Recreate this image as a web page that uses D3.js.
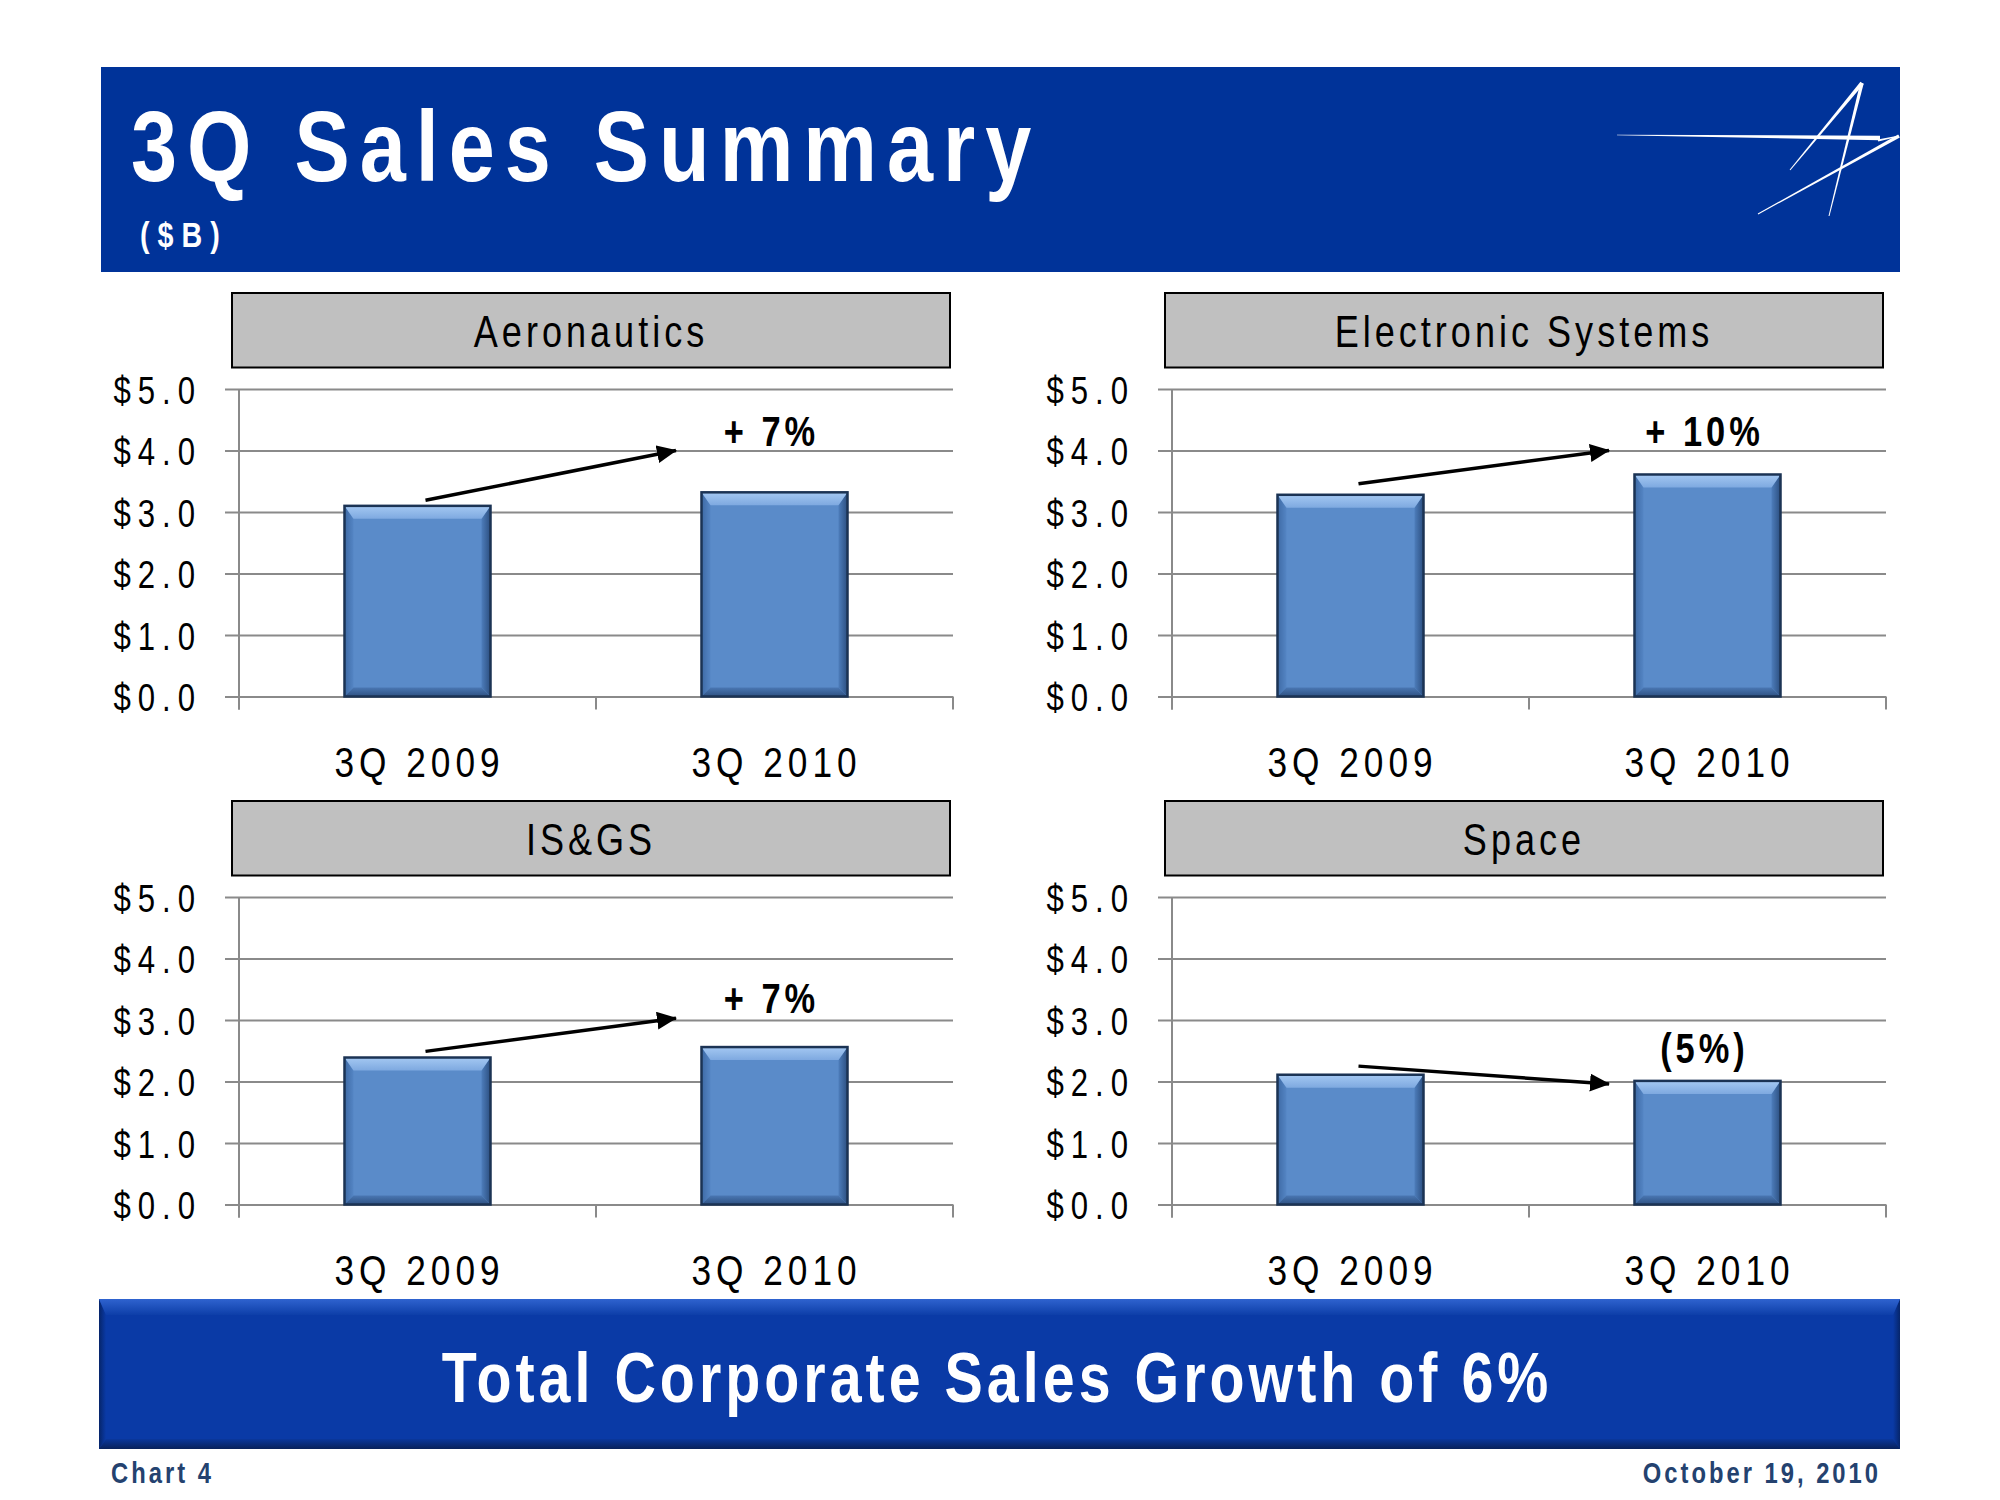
<!DOCTYPE html>
<html><head><meta charset="utf-8">
<script src="https://cdn.jsdelivr.net/npm/d3@7"></script>
<style>
html,body{margin:0;padding:0;background:#fff;}
svg{display:block;}
text{font-family:"Liberation Sans",Arial,sans-serif;}
</style></head><body>
<svg id="chart" width="2000" height="1500"></svg>
<script>
// ---------- data ----------
const categories = ["3Q 2009", "3Q 2010"];
const segments = ["Aeronautics", "Electronic Systems", "IS&GS", "Space"];
const sales3Q2009 = [3.10, 3.28, 2.39, 2.11];
const sales3Q2010 = [3.32, 3.61, 2.56, 2.01];
const changeLabels = ["+ 7%", "+ 10%", "+ 7%", "(5%)"];
const arrowFrom = [3.19, 3.46, 2.49, 2.25];
const arrowTo = [4.0, 4.0, 3.03, 1.96];
const yTickValues = [0, 1, 2, 3, 4, 5];
const titleText = "3Q Sales Summary";
const unitText = "($B)";
const footerText = "Total Corporate Sales Growth of 6%";
const chartNumber = "Chart 4";
const dateText = "October 19, 2010";

// ---------- setup ----------
const SX = 0.82; // narrow-face emulation
const svg = d3.select("#chart");
const defs = svg.append("defs");

function linGrad(id, x1, y1, x2, y2, stops) {
  const g = defs.append("linearGradient").attr("id", id)
    .attr("x1", x1).attr("y1", y1).attr("x2", x2).attr("y2", y2);
  stops.forEach(s => g.append("stop").attr("offset", s[0]).attr("stop-color", s[1]));
}
linGrad("barTop", 0, 0, 0, 1, [[0, "#a4c8f2"], [1, "#7ea9e0"]]);
linGrad("barLeft", 0, 0, 1, 0, [[0, "#3e6aa5"], [1, "#5485c4"]]);
linGrad("barRight", 0, 0, 1, 0, [[0, "#4d7dbb"], [1, "#2c4f80"]]);
linGrad("barBottom", 0, 0, 0, 1, [[0, "#4a77b3"], [1, "#2e5182"]]);
linGrad("footTop", 0, 0, 0, 1, [[0, "#2f63cf"], [1, "#0d3ea8"]]);
linGrad("footBottom", 0, 0, 0, 1, [[0, "#0a379c"], [1, "#08215a"]]);
linGrad("footLeft", 0, 0, 1, 0, [[0, "#06256a"], [1, "#0a3aa6"]]);
linGrad("footRight", 0, 0, 1, 0, [[0, "#0a3aa6"], [1, "#06256a"]]);

// narrow text helper
function ntext(parent, x, y, str, o) {
  const t = parent.append("text")
    .attr("transform", `translate(${x},${y}) scale(${SX},1)`)
    .attr("font-size", o.size).attr("fill", o.fill || "#000")
    .attr("text-anchor", o.anchor || "start")
    .style("letter-spacing", ((o.ls || 0) / SX) + "px")
    .text(str);
  if (o.bold) t.attr("font-weight", "bold");
  return t;
}

// ---------- header ----------
svg.append("rect").attr("x", 101).attr("y", 67).attr("width", 1799).attr("height", 205)
  .attr("fill", "#003399");
ntext(svg, 131, 181, titleText, { size: 101, fill: "#fff", bold: true, ls: 10 });
ntext(svg, 140, 247, unitText, { size: 35, fill: "#fff", bold: true, ls: 8 });

// logo (decoration)
function wedge(x1, y1, x2, y2, w1, w2) {
  const dx = x2 - x1, dy = y2 - y1, L = Math.hypot(dx, dy);
  const nx = -dy / L, ny = dx / L;
  return [[x1 + nx * w1 / 2, y1 + ny * w1 / 2], [x2 + nx * w2 / 2, y2 + ny * w2 / 2],
          [x2 - nx * w2 / 2, y2 - ny * w2 / 2], [x1 - nx * w1 / 2, y1 - ny * w1 / 2]];
}
const logo = svg.append("g").attr("fill", "#fff");
[
  wedge(1617, 135, 1880, 138, 0.6, 4.5),
  wedge(1878, 140.5, 1899, 136, 2, 1),
  wedge(1899, 136, 1758, 214, 3.5, 1),
  wedge(1862, 83, 1790, 170, 4, 1),
  wedge(1862, 83, 1829, 216, 3.5, 1)
].forEach(p => logo.append("polygon").attr("points", p.map(d => d.join(",")).join(" ")));

// ---------- panels ----------
const plotW = 714, plotH = 307.5;
const x = d3.scaleBand().domain(categories).range([0, plotW]).paddingInner(0.591).paddingOuter(0.2955);
const y = d3.scaleLinear().domain([0, 5]).range([plotH, 0]);
const fmt = d => "$" + d3.format(".1f")(d);

defs.append("marker").attr("id", "arrowHead")
  .attr("markerUnits", "userSpaceOnUse").attr("markerWidth", 20).attr("markerHeight", 20)
  .attr("refX", 19).attr("refY", 9).attr("orient", "auto")
  .append("path").attr("d", "M0,0 L20,9 L0,18 Z").attr("fill", "#000");

function bevelBar(g, bx, by, bw, bh) {
  const t = 13, s = 9, b = 9;
  const bar = g.append("g");
  bar.append("rect").attr("x", bx).attr("y", by).attr("width", bw).attr("height", bh).attr("fill", "#5a8bc9");
  const poly = (pts, fill) => bar.append("polygon").attr("points", pts.map(p => p.join(",")).join(" ")).attr("fill", fill);
  poly([[bx, by], [bx + s, by + t], [bx + s, by + bh - b], [bx, by + bh]], "url(#barLeft)");
  poly([[bx + bw, by], [bx + bw - s, by + t], [bx + bw - s, by + bh - b], [bx + bw, by + bh]], "url(#barRight)");
  poly([[bx, by + bh], [bx + s, by + bh - b], [bx + bw - s, by + bh - b], [bx + bw, by + bh]], "url(#barBottom)");
  poly([[bx, by], [bx + bw, by], [bx + bw - s, by + t], [bx + s, by + t]], "url(#barTop)");
  bar.append("rect").attr("x", bx).attr("y", by).attr("width", bw).attr("height", bh)
    .attr("fill", "none").attr("stroke", "#1b3354").attr("stroke-width", 2.5);
}

segments.forEach((name, i) => {
  const col = i % 2, row = Math.floor(i / 2);
  const left = 239 + col * 933, top = 389 + row * 508;
  const g = svg.append("g").attr("transform", `translate(${left},${top})`);

  // title box
  g.append("rect").attr("x", -7).attr("y", -96).attr("width", 718).attr("height", 74.5)
    .attr("fill", "#c0c0c0").attr("stroke", "#000").attr("stroke-width", 2);
  ntext(g, 352, -42, name, { size: 44, anchor: "middle", ls: 4 });

  // gridlines + y ticks
  const yAxis = d3.axisLeft(y).tickValues(yTickValues).tickSize(-(plotW + 14)).tickFormat(fmt).tickPadding(0);
  const ya = g.append("g").attr("transform", "translate(-14,0)").call(yAxis);
  ya.select(".domain").remove();
  ya.selectAll(".tick line").attr("x1", 0).attr("x2", plotW + 14).attr("stroke", "#8a8a8a").attr("stroke-width", 2);
  ya.selectAll(".tick text")
    .attr("x", -23 / SX).attr("dy", "0.38em").attr("transform", `scale(${SX},1)`)
    .attr("font-size", 38).attr("fill", "#000").attr("font-family", null)
    .style("letter-spacing", (7 / SX) + "px");

  // vertical axis line
  g.append("line").attr("x1", 0).attr("x2", 0).attr("y1", 0).attr("y2", plotH + 13)
    .attr("stroke", "#8a8a8a").attr("stroke-width", 2);
  // category boundary ticks
  [0, x.step(), plotW].forEach(t => g.append("line").attr("x1", t).attr("x2", t)
    .attr("y1", plotH).attr("y2", plotH + 13).attr("stroke", "#8a8a8a").attr("stroke-width", 2));

  // bars
  const vals = [sales3Q2009[i], sales3Q2010[i]];
  categories.forEach((c, k) => bevelBar(g, x(c), y(vals[k]), x.bandwidth(), plotH - y(vals[k])));

  // x labels
  categories.forEach(c => ntext(g, x(c) + x.bandwidth() / 2 + 2, plotH + 80, c,
    { size: 43, anchor: "middle", ls: 5 }));

  // change arrow
  const x0 = x(categories[0]) + x.bandwidth() / 2 + 8;
  const x1 = x.step() + 80;
  g.append("line").attr("x1", x0).attr("y1", y(arrowFrom[i])).attr("x2", x1).attr("y2", y(arrowTo[i]))
    .attr("stroke", "#000").attr("stroke-width", 3.5).attr("marker-end", "url(#arrowHead)");
  const decrease = vals[1] < vals[0];
  const labelY = Math.min(y(arrowTo[i]), y(vals[1])) - (decrease ? 18 : 5);
  ntext(g, x(categories[1]) + x.bandwidth() / 2 - 3, labelY, changeLabels[i],
    { size: 42, anchor: "middle", bold: true, ls: 4 });
});

// ---------- footer ----------
const fx = 99, fy = 1299, fw = 1801, fh = 150;
svg.append("rect").attr("x", fx).attr("y", fy).attr("width", fw).attr("height", fh).attr("fill", "#0a3aa6");
const fpoly = (pts, fill) => svg.append("polygon").attr("points", pts.map(p => p.join(",")).join(" ")).attr("fill", fill);
fpoly([[fx, fy], [fx + 7, fy + 16], [fx + 7, fy + fh - 10], [fx, fy + fh]], "url(#footLeft)");
fpoly([[fx + fw, fy], [fx + fw - 7, fy + 16], [fx + fw - 7, fy + fh - 10], [fx + fw, fy + fh]], "url(#footRight)");
fpoly([[fx, fy], [fx + fw, fy], [fx + fw - 7, fy + 16], [fx + 7, fy + 16]], "url(#footTop)");
fpoly([[fx, fy + fh], [fx + 7, fy + fh - 10], [fx + fw - 7, fy + fh - 10], [fx + fw, fy + fh]], "url(#footBottom)");
ntext(svg, 997, 1402, footerText, { size: 70, fill: "#fff", bold: true, anchor: "middle", ls: 4 });
ntext(svg, 111, 1483, chartNumber, { size: 29, fill: "#24426f", bold: true, ls: 3 });
ntext(svg, 1881, 1483, dateText, { size: 29, fill: "#24426f", bold: true, anchor: "end", ls: 3 });
</script>
</body></html>
